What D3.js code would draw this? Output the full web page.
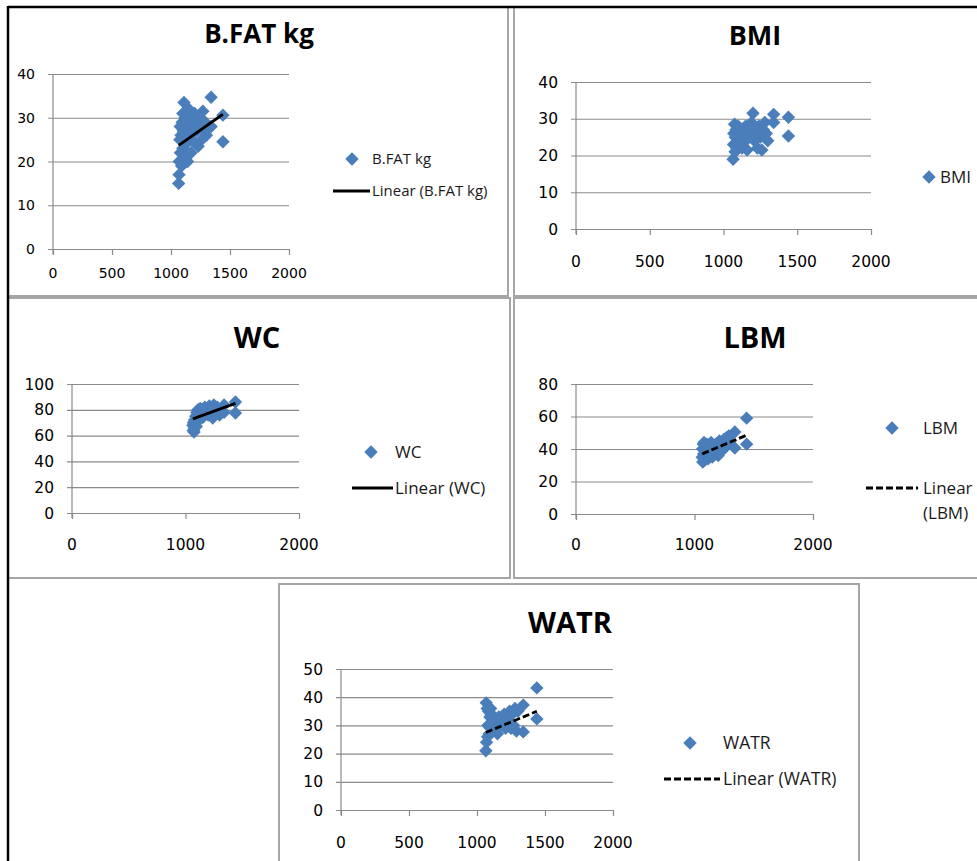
<!DOCTYPE html>
<html><head><meta charset="utf-8">
<script src="https://cdn.jsdelivr.net/npm/d3@7"></script>
<style>body{margin:0;background:#fff;} svg{display:block;}</style>
</head><body>
<script>
// ---- data ----
const xValues = [1065,1068,1070,1075,1078,1080,1085,1090,1095,1100,1105,1110,1115,1120,1125,1130,1140,1150,1160,1170,1180,1190,1200,1210,1220,1230,1240,1250,1260,1270,1280,1290,1300,1340,1340,1440,1440,1100,1150,1200];
const bfatValues = [15,17,20,25,28,22,26,19,29,23,27,33.5,21,30,24,28,20,26,31,22,25,29,31,24,27,23.5,30,28,25,31.5,27,29,26,34.7,28,30.6,24.5,31,32,27];
const bmiValues  = [19,23,26,28.5,21,25,27,22,24,28,26,23,25,27,22,24,26,28,21.5,25,27,29,31.5,24,26,22,28,25,21.5,27,29,26,24,31.2,29,30.4,25.3,22,24,27];
const wcValues   = [68,64,70,62.8,66,72,69,75,67,78,73,80,76,79,74,81,77,80,75,82,78,80,76,83,79,81,73.6,83.7,77,80,82,78,76,83.7,78,86,77.5,71,74,81];
const lbmValues  = [35,40,32,43,37,44,33,39,41,36,43,38,34,42,40,37,44,35,41,38,43,40,37,45,42,39,44,46,41,47,43,48,45,50.5,40.6,59,43,42,39,36];
const watrValues = [21,38,24,36,26,30,35,27,33,29,34,31,28,32,33,30,31,29,33,31,32,30,34,29,33,31,35,29,34,30,36,28,35,37.2,27.7,43.3,32.3,36,27,32];

const trendX    = [1065,1440];
const trendBfat = [23.7,30.8];
const trendWc   = [73,85];
const trendLbm  = [37,48.5];
const trendWatr = [27.5,35];

const xTicksFine   = [0,500,1000,1500,2000];
const xTicksCoarse = [0,1000,2000];
const yTicks40  = [0,10,20,30,40];
const yTicks100 = [0,20,40,60,80,100];
const yTicks80  = [0,20,40,60,80];
const yTicks50  = [0,10,20,30,40,50];

// ---- layout ----
const W = 977, H = 861;
const blue = "#4a7ebb", grid = "#8a8a8a", border = "#a6a6a6";
const tickFont = "'DejaVu Sans', sans-serif";
const textFont = "'Open Sans', sans-serif";

const panels = [
  {title:"B.FAT kg", values:bfatValues, xTicks:xTicksFine, yTicks:yTicks40, trend:trendBfat, dashed:false,
   plot:{x0:53,x1:289,y0:249,y1:74}, titleX:259, titleY:43, titleSize:26, tickSize:14, xLabOff:29,
   legend:{dx:352, dy:159, tx:372, lineY:191, lx0:333, lx1:370, size:15, lines:["Linear (B.FAT kg)"], name:"B.FAT kg"}},
  {title:"BMI", values:bmiValues, xTicks:xTicksFine, yTicks:yTicks40, trend:null,
   plot:{x0:576,x1:871,y0:229,y1:82}, titleX:755, titleY:45, titleSize:27, tickSize:15.5, xLabOff:38,
   legend:{dx:929, dy:177, tx:940, size:17, name:"BMI"}},
  {title:"WC", values:wcValues, xTicks:xTicksCoarse, yTicks:yTicks100, trend:trendWc, dashed:false,
   plot:{x0:72,x1:299,y0:513,y1:384}, titleX:257, titleY:348, titleSize:29, tickSize:15.5, xLabOff:37,
   legend:{dx:371, dy:452, tx:395, lineY:488, lx0:352, lx1:393, size:17, lines:["Linear (WC)"], name:"WC"}},
  {title:"LBM", values:lbmValues, xTicks:xTicksCoarse, yTicks:yTicks80, trend:trendLbm, dashed:true,
   plot:{x0:576,x1:813,y0:514,y1:384}, titleX:755, titleY:348, titleSize:29, tickSize:15.5, xLabOff:36,
   legend:{dx:892, dy:428, tx:923, lineY:488, lx0:866, lx1:918, size:17, lines:["Linear","(LBM)"], name:"LBM"}},
  {title:"WATR", values:watrValues, xTicks:xTicksFine, yTicks:yTicks50, trend:trendWatr, dashed:true,
   plot:{x0:341,x1:613,y0:810,y1:669}, titleX:570, titleY:633, titleSize:29, tickSize:15.5, xLabOff:38,
   legend:{dx:690, dy:743, tx:723, lineY:779, lx0:664, lx1:720, size:17.5, lines:["Linear (WATR)"], name:"WATR"}}
];

const svg = d3.select("body").append("svg").attr("width", W).attr("height", H);
svg.append("rect").attr("width", W).attr("height", H).attr("fill", "#fff");

// panel borders
const borders = svg.append("g").attr("fill","none").attr("stroke",border).attr("stroke-width",2);
[[8,508,7,296],[514,990,7,296],[8,510,298,578],[514,990,298,578],[279,859,584,880]].forEach(b=>{
  borders.append("rect").attr("x",b[0]).attr("y",b[2]).attr("width",b[1]-b[0]).attr("height",b[3]-b[2]);
});
// outer black edges
svg.append("line").attr("x1",8).attr("x2",W).attr("y1",7).attr("y2",7).attr("stroke","#000").attr("stroke-width",2.5);
svg.append("line").attr("x1",8).attr("x2",8).attr("y1",6).attr("y2",H).attr("stroke","#000").attr("stroke-width",2.5);

const diamond = d3.symbol(d3.symbolSquare, 90);

panels.forEach(p => {
  const g = svg.append("g");
  const x = d3.scaleLinear().domain([0,2000]).range([p.plot.x0, p.plot.x1]);
  const yMax = d3.max(p.yTicks);
  const y = d3.scaleLinear().domain([0,yMax]).range([p.plot.y0, p.plot.y1]);

  // title
  g.append("text").attr("x",p.titleX).attr("y",p.titleY).attr("text-anchor","middle")
    .attr("font-family",textFont).attr("font-weight",700).attr("font-size",p.titleSize).attr("fill","#000").text(p.title);

  // gridlines with left tick
  const yAxis = d3.axisLeft(y).tickValues(p.yTicks).tickSize(-(p.plot.x1-p.plot.x0)).tickPadding(0).tickFormat("");
  const ga = g.append("g").attr("transform",`translate(${p.plot.x0},0)`).call(yAxis);
  ga.select(".domain").remove();
  ga.selectAll("line").attr("stroke",grid).attr("stroke-width",1.2).attr("x2",p.plot.x1-p.plot.x0).attr("x1",-5);
  // y labels
  g.selectAll(".ylab").data(p.yTicks).enter().append("text")
    .attr("x",p.plot.x0-18).attr("y",d=>y(d)).attr("dy","0.36em").attr("text-anchor","end")
    .attr("font-family",tickFont).attr("font-size",p.tickSize).attr("fill","#000").text(d=>d);

  // y axis line
  g.append("line").attr("x1",p.plot.x0).attr("x2",p.plot.x0).attr("y1",y(yMax)).attr("y2",p.plot.y0+5)
    .attr("stroke",grid).attr("stroke-width",1.2);
  // x axis
  const xAxis = d3.axisBottom(x).tickValues(p.xTicks).tickSize(6).tickSizeOuter(0).tickFormat("");
  const gx = g.append("g").attr("transform",`translate(0,${p.plot.y0})`).call(xAxis);
  gx.select(".domain").attr("stroke",grid).attr("stroke-width",1.2);
  gx.selectAll("line").attr("stroke",grid).attr("stroke-width",1.2);
  g.selectAll(".xlab").data(p.xTicks).enter().append("text")
    .attr("x",d=>x(d)).attr("y",p.plot.y0+p.xLabOff).attr("text-anchor","middle")
    .attr("font-family",tickFont).attr("font-size",p.tickSize).attr("fill","#000").text(d=>d);

  // points
  g.selectAll(".pt").data(p.values.map((v,i)=>[xValues[i],v])).enter().append("path")
    .attr("d",diamond).attr("fill",blue)
    .attr("transform",d=>`translate(${x(d[0])},${y(d[1])}) rotate(45)`);

  // trend
  if (p.trend) {
    g.append("line").attr("x1",x(trendX[0])).attr("y1",y(p.trend[0])).attr("x2",x(trendX[1])).attr("y2",y(p.trend[1]))
      .attr("stroke","#000").attr("stroke-width",2.8).attr("stroke-dasharray",p.dashed?"7,3":null);
  }

  // legend
  const L = p.legend;
  g.append("path").attr("d",diamond).attr("fill",blue).attr("transform",`translate(${L.dx},${L.dy}) rotate(45)`);
  g.append("text").attr("x",L.tx).attr("y",L.dy).attr("dy","0.35em").attr("font-family",textFont)
    .attr("font-size",L.size).attr("fill","#1a1a1a").text(L.name);
  if (p.trend) {
    g.append("line").attr("x1",L.lx0).attr("x2",L.lx1).attr("y1",L.lineY).attr("y2",L.lineY)
      .attr("stroke","#000").attr("stroke-width",3).attr("stroke-dasharray",p.dashed?"7,3":null);
    L.lines.forEach((t,i)=>{
      g.append("text").attr("x",L.tx).attr("y",L.lineY + i*L.size*1.45).attr("dy","0.35em").attr("font-family",textFont)
        .attr("font-size",L.size).attr("fill","#1a1a1a").text(t);
    });
  }
});
</script>
</body></html>
